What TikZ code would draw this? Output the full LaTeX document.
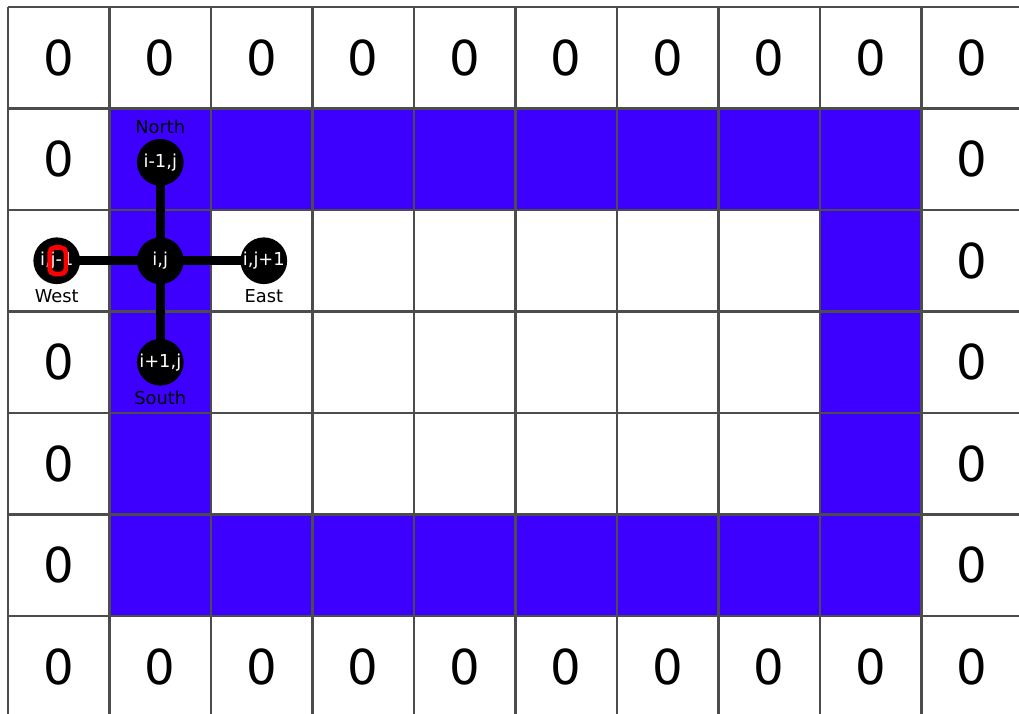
\documentclass[tikz,border=0pt]{standalone}
\usepackage{fontspec}
\setmainfont{DejaVu Sans}
\usetikzlibrary{positioning,backgrounds}
\definecolor{wallblue}{RGB}{61,0,255}

\begin{document}
\begin{tikzpicture}[
    x=1cm, y=1cm,
    every node/.style={font=\fontsize{5}{6}\selectfont},
    zero/.style={font=\fontsize{13.5}{16}\selectfont},
    pix/.style={circle, fill=black, text=white, minimum size=0.46cm, inner sep=0pt},
    lbl/.style={text=black, inner sep=1pt},
    link/.style={line width=2.5pt},
    gridline/.style={draw=black!70, line width=0.6pt}
]
\useasboundingbox (-0.079,0.044) rectangle (9.96,7.069);
\begin{scope}[on background layer]
% blue ring of cells
\foreach \c in {1,...,8} {
  \fill[wallblue] (\c,5) rectangle ++(1,1);
  \fill[wallblue] (\c,1) rectangle ++(1,1);
}
\foreach \r in {2,3,4} {
  \fill[wallblue] (1,\r) rectangle ++(1,1);
  \fill[wallblue] (8,\r) rectangle ++(1,1);
}
\draw[gridline] (0,0) grid (10,7);
\end{scope}
% zero padding
\foreach \c in {0,...,9} {
  \node[zero] (top-\c) at (\c+0.5,6.5) {0};
  \node[zero] (bot-\c) at (\c+0.5,0.5) {0};
}
\foreach \r in {1.5,2.5,3.5,5.5}
  \node[zero] (left-\r) at (0.5,\r) {0};
\foreach \r in {1.5,2.5,3.5,4.5,5.5}
  \node[zero] (right-\r) at (9.5,\r) {0};
% neighbourhood of (i,j)
\node[pix] (ij) at (1.5,4.5) {i,j};
\node[pix, label={[lbl]above:North}] (north) at (1.5,5.47) {i-1,j};
\node[pix, label={[lbl]below:South}] (south) at (1.5,3.5) {i+1,j};
\node[pix, label={[lbl]below:West}] (west) at (0.48,4.5) {i,j-1};
\node[pix, label={[lbl]below:East}] (east) at (2.52,4.5) {i,j+1};
\begin{scope}[on background layer]
\draw[link] (ij.center) -- (north.center);
\draw[link] (ij.center) -- (south.center);
\draw[link] (ij.center) -- (west.center);
\draw[link] (ij.center) -- (east.center);
\end{scope}
\node[draw=red, line width=1.3pt, rounded corners=0.05cm, minimum width=0.16cm,
      minimum height=0.26cm, inner sep=0pt] (redzero) at ([xshift=0.3pt]west.center) {};
\end{tikzpicture}
\end{document}
